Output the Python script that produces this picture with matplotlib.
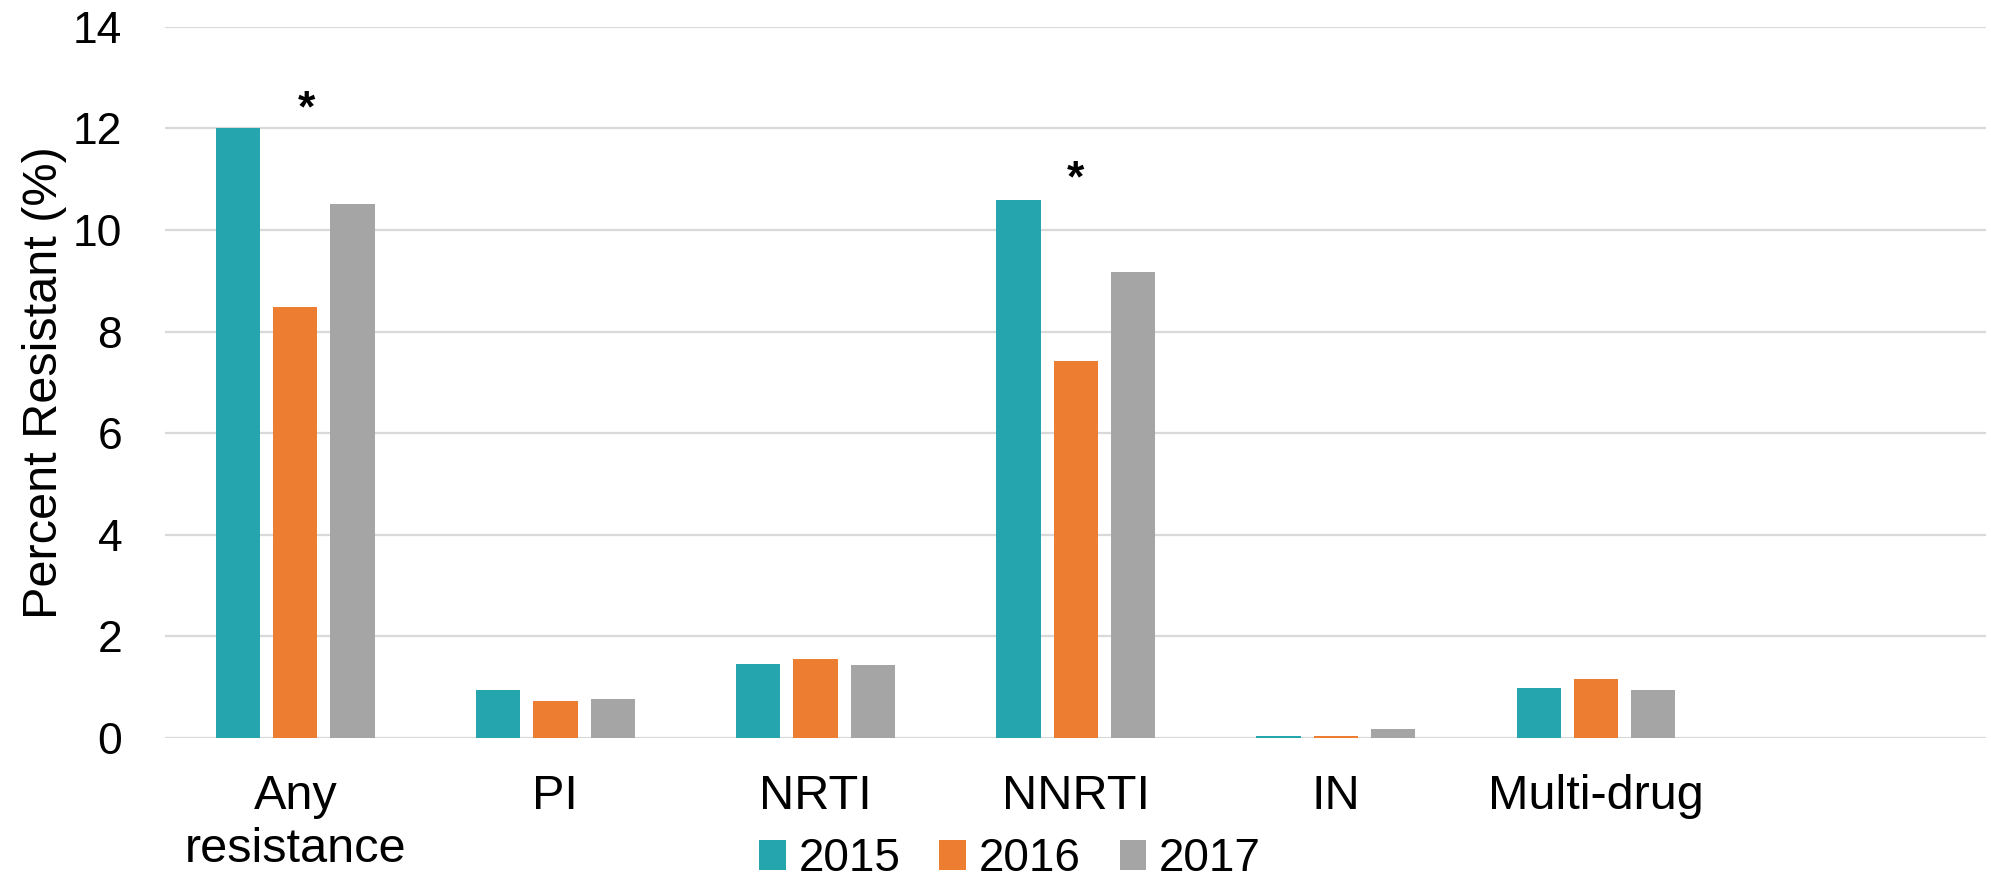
import matplotlib

matplotlib.use("Agg")
import matplotlib.pyplot as plt
import numpy as np

CATEGORIES = ["Any\nresistance", "PI", "NRTI", "NNRTI", "IN", "Multi-drug", ""]
YEARS = ["2015", "2016", "2017"]
VALUES_2015 = [12.0, 0.95, 1.45, 10.6, 0.04, 0.99]
VALUES_2016 = [8.48, 0.73, 1.55, 7.42, 0.04, 1.15]
VALUES_2017 = [10.52, 0.77, 1.43, 9.18, 0.18, 0.95]
COLORS = ["#25A5AD", "#ED7D31", "#A5A5A5"]
# significance marks: (x position, baseline height)
ASTERISKS = [(0.044, 12.13), (3.0, 10.76)]
Y_TICKS = [0, 2, 4, 6, 8, 10, 12, 14]

plt.rcParams["font.family"] = ["Liberation Sans", "DejaVu Sans"]

fig = plt.figure(figsize=(19.91, 8.82), dpi=100)
ax = fig.add_axes([0.083, 0.1635, 0.9145, 0.806])

series = [VALUES_2015, VALUES_2016, VALUES_2017]
x = np.arange(len(VALUES_2015))
offsets = [-0.22, 0.0, 0.22]
bars = []
for values, offset, color, year in zip(series, offsets, COLORS, YEARS):
    b = ax.bar(x + offset, values, width=0.17, color=color, label=year, zorder=3)
    bars.append(b)

for xpos, y in ASTERISKS:
    ax.text(xpos, y, "*", ha="center", va="baseline", fontsize=32,
            fontweight="bold", zorder=4)

ax.set_xlim(-0.5, len(CATEGORIES) - 0.5)
ax.set_ylim(0, 14)
ax.set_yticks(Y_TICKS)
ax.set_xticks(np.arange(len(CATEGORIES)))
ax.set_xticklabels(CATEGORIES, fontsize=35, linespacing=1.22)
ax.tick_params(axis="y", length=0, pad=31, labelsize=32)
ax.tick_params(axis="x", length=0, pad=26)
ax.grid(axis="y", color="#d9d9d9", linewidth=1.6, zorder=0)
for side in ["left", "right", "top", "bottom"]:
    ax.spines[side].set_visible(False)

ax.set_ylabel("Percent Resistant (%)", fontsize=35)
ax.yaxis.set_label_coords(-0.054, 0.5)

fig.legend(
    handles=bars,
    labels=YEARS,
    loc="center",
    bbox_to_anchor=(1010 / 1991, 1 - 859 / 882),
    ncol=3,
    frameon=False,
    fontsize=33,
    handlelength=0.58,
    handleheight=0.63,
    handletextpad=0.28,
    columnspacing=0.85,
    borderpad=0,
)

fig.savefig("out.png", dpi=100)
